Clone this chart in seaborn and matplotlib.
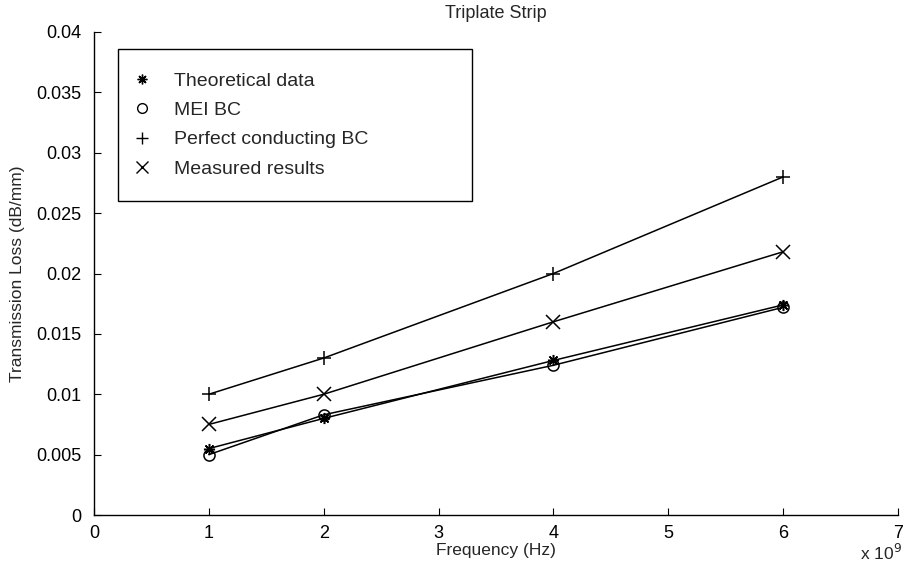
import numpy as np
import pandas as pd
import matplotlib
matplotlib.use("Agg")
import matplotlib.pyplot as plt
import seaborn as sns
from matplotlib.lines import Line2D

freq_ghz = [1, 2, 4, 6]
theoretical = [0.0055, 0.0080, 0.0128, 0.0174]
mei_bc = [0.0050, 0.0083, 0.0124, 0.0172]
perfect_bc = [0.0100, 0.0130, 0.0200, 0.0280]
measured = [0.0075, 0.0100, 0.0160, 0.0218]

series_names = ["Theoretical data", "MEI BC", "Perfect conducting BC", "Measured results"]
series_values = [theoretical, mei_bc, perfect_bc, measured]
x_tick_labels = ["0", "1", "2", "3", "4", "5", "6", "7"]
y_ticks = [0, 0.005, 0.01, 0.015, 0.02, 0.025, 0.03, 0.035, 0.04]
y_tick_labels = ["0", "0.005", "0.01", "0.015", "0.02", "0.025", "0.03", "0.035", "0.04"]

sns.set_theme(style="ticks")
plt.rcParams["font.family"] = ["Liberation Sans", "DejaVu Sans"]

rows = []
for name, vals in zip(series_names, series_values):
    for f, v in zip(freq_ghz, vals):
        rows.append({"Frequency": f * 1e9, "Loss": v, "Series": name})
df = pd.DataFrame(rows)

markers = {
    "Theoretical data": (8, 2, 0),
    "MEI BC": "o",
    "Perfect conducting BC": "+",
    "Measured results": "x",
}
msizes = {
    "Theoretical data": 8,
    "MEI BC": 8,
    "Perfect conducting BC": 10,
    "Measured results": 9.5,
}

fig = plt.figure(figsize=(9.05, 5.69), dpi=100)
ax_left, ax_right, ax_top, ax_bottom = 94, 898, 32, 515
ax = fig.add_axes([ax_left / 905, (569 - ax_bottom) / 569,
                   (ax_right - ax_left) / 905, (ax_bottom - ax_top) / 569])
aw = ax_right - ax_left
ah = ax_bottom - ax_top

for name in series_names:
    sub = df[df["Series"] == name]
    sns.lineplot(data=sub, x="Frequency", y="Loss", ax=ax, color="black",
                 linewidth=1.1, marker=markers[name], markersize=msizes[name],
                 markerfacecolor="none", markeredgecolor="black",
                 markeredgewidth=1.1, legend=False, estimator=None)

ax.set_xlim(0, 7e9)
ax.set_ylim(0, 0.04)
ax.set_xticks([i * 1e9 for i in range(8)])
ax.set_xticklabels(x_tick_labels)
ax.set_yticks(y_ticks)
ax.set_yticklabels(y_tick_labels)
ax.tick_params(direction="in", length=5, width=0.8, colors="black", labelsize=13)
ax.tick_params(axis="y", pad=9)
ax.tick_params(axis="x", pad=7)
for s in ["top", "right"]:
    ax.spines[s].set_visible(False)
for s in ["left", "bottom"]:
    ax.spines[s].set_color("black")
    ax.spines[s].set_linewidth(1.0)

ax.set_xlabel("Frequency (Hz)", fontsize=12.5, labelpad=1)
ax.set_ylabel("Transmission Loss (dB/mm)", fontsize=12.5, labelpad=8)
ax.set_title("Triplate Strip", fontsize=13, pad=10)
fig.text(902 / 905, 1 - 553 / 569, r"x 10$^{9}$", fontsize=12.5, ha="right", va="center")

handles = [Line2D([], [], linestyle="none", marker=markers[n], markersize=msizes[n] - 1,
                  markerfacecolor="none", markeredgecolor="black", markeredgewidth=1.0)
           for n in series_names]
lx0 = (118 - ax_left) / aw
lx1 = (472 - ax_left) / aw
ly1 = (ax_bottom - 49) / ah
ly0 = (ax_bottom - 197) / ah
leg = ax.legend(handles, series_names, loc="upper left",
                bbox_to_anchor=(lx0, ly0, lx1 - lx0, ly1 - ly0), mode="expand",
                borderaxespad=0, frameon=True, fancybox=False, fontsize=14,
                handlelength=0.1, handletextpad=1.6, labelspacing=0.6,
                borderpad=1.2)
leg.get_frame().set_edgecolor("black")
leg.get_frame().set_linewidth(1.0)
leg.get_frame().set_alpha(1)

fig.savefig("out.png", dpi=100)
